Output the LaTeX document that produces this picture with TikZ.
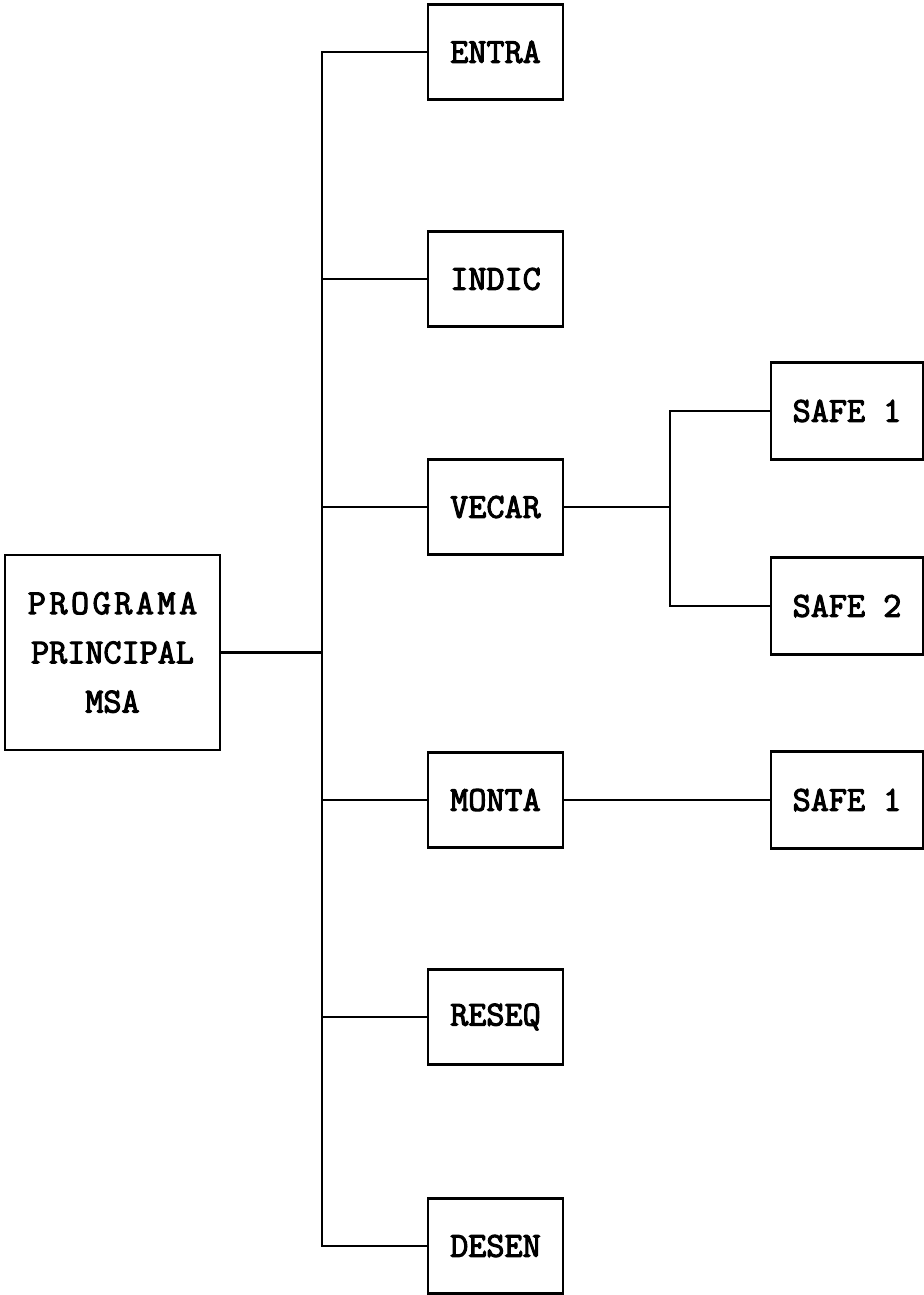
\documentclass[tikz,border=0pt]{standalone}
\usepackage{fontspec}
\setmonofont{Latin Modern Mono}[AutoFakeBold=3]
\newfontfamily\spacedtt{Latin Modern Mono}[FakeBold=3, LetterSpace=10]
\usetikzlibrary{positioning}

\begin{document}
\begin{tikzpicture}[
    every node/.style={font=\ttfamily\bfseries\fontsize{20}{28}\selectfont},
    box/.style={draw, line width=1.6pt, minimum width=2.7cm, minimum height=1.9cm, inner sep=2pt},
    sbox/.style={box, minimum width=3.04cm, minimum height=1.94cm},
    ln/.style={line width=1.6pt}
]
    \useasboundingbox (0,0) rectangle (18.48,-25.9);

    % ===== programa principal =====
    \node[box, minimum width=4.3cm, minimum height=3.9cm, align=center] (main) at (2.25,-13.05)
        {{\spacedtt PROGRAMA}\\PRINCIPAL\\MSA};

    % ===== subrotinas =====
    \node[box] (entra) at (9.91,-1.04)  {ENTRA};
    \node[box] (indic) at (9.91,-5.58)  {INDIC};
    \node[box] (vecar) at (9.91,-10.14) {VECAR};
    \node[box] (monta) at (9.91,-16.0)  {MONTA};
    \node[box] (reseq) at (9.91,-20.34) {RESEQ};
    \node[box] (desen) at (9.91,-24.92) {DESEN};

    \node[sbox] (safea) at (16.94,-8.22)  {SAFE 1};
    \node[sbox] (safeb) at (16.94,-12.12) {SAFE 2};
    \node[sbox] (safec) at (16.94,-16.0)  {SAFE 1};

    % ===== ligacoes =====
    \coordinate (tr) at (6.44,0);
    \coordinate (br) at (13.4,0);
    \draw[ln] (entra.west) -| (desen.west -| tr) -- (desen.west);
    \draw[ln] (main.east) -- (main.east -| tr);
    \draw[ln] (indic.west) -- (indic.west -| tr);
    \draw[ln] (vecar.west) -- (vecar.west -| tr);
    \draw[ln] (monta.west) -- (monta.west -| tr);
    \draw[ln] (reseq.west) -- (reseq.west -| tr);

    \draw[ln] (vecar.east) -- (vecar.east -| br);
    \draw[ln] (safea.west) -| (safeb.west -| br) -- (safeb.west);
    \draw[ln] (monta.east) -- (safec.west);
\end{tikzpicture}
\end{document}
